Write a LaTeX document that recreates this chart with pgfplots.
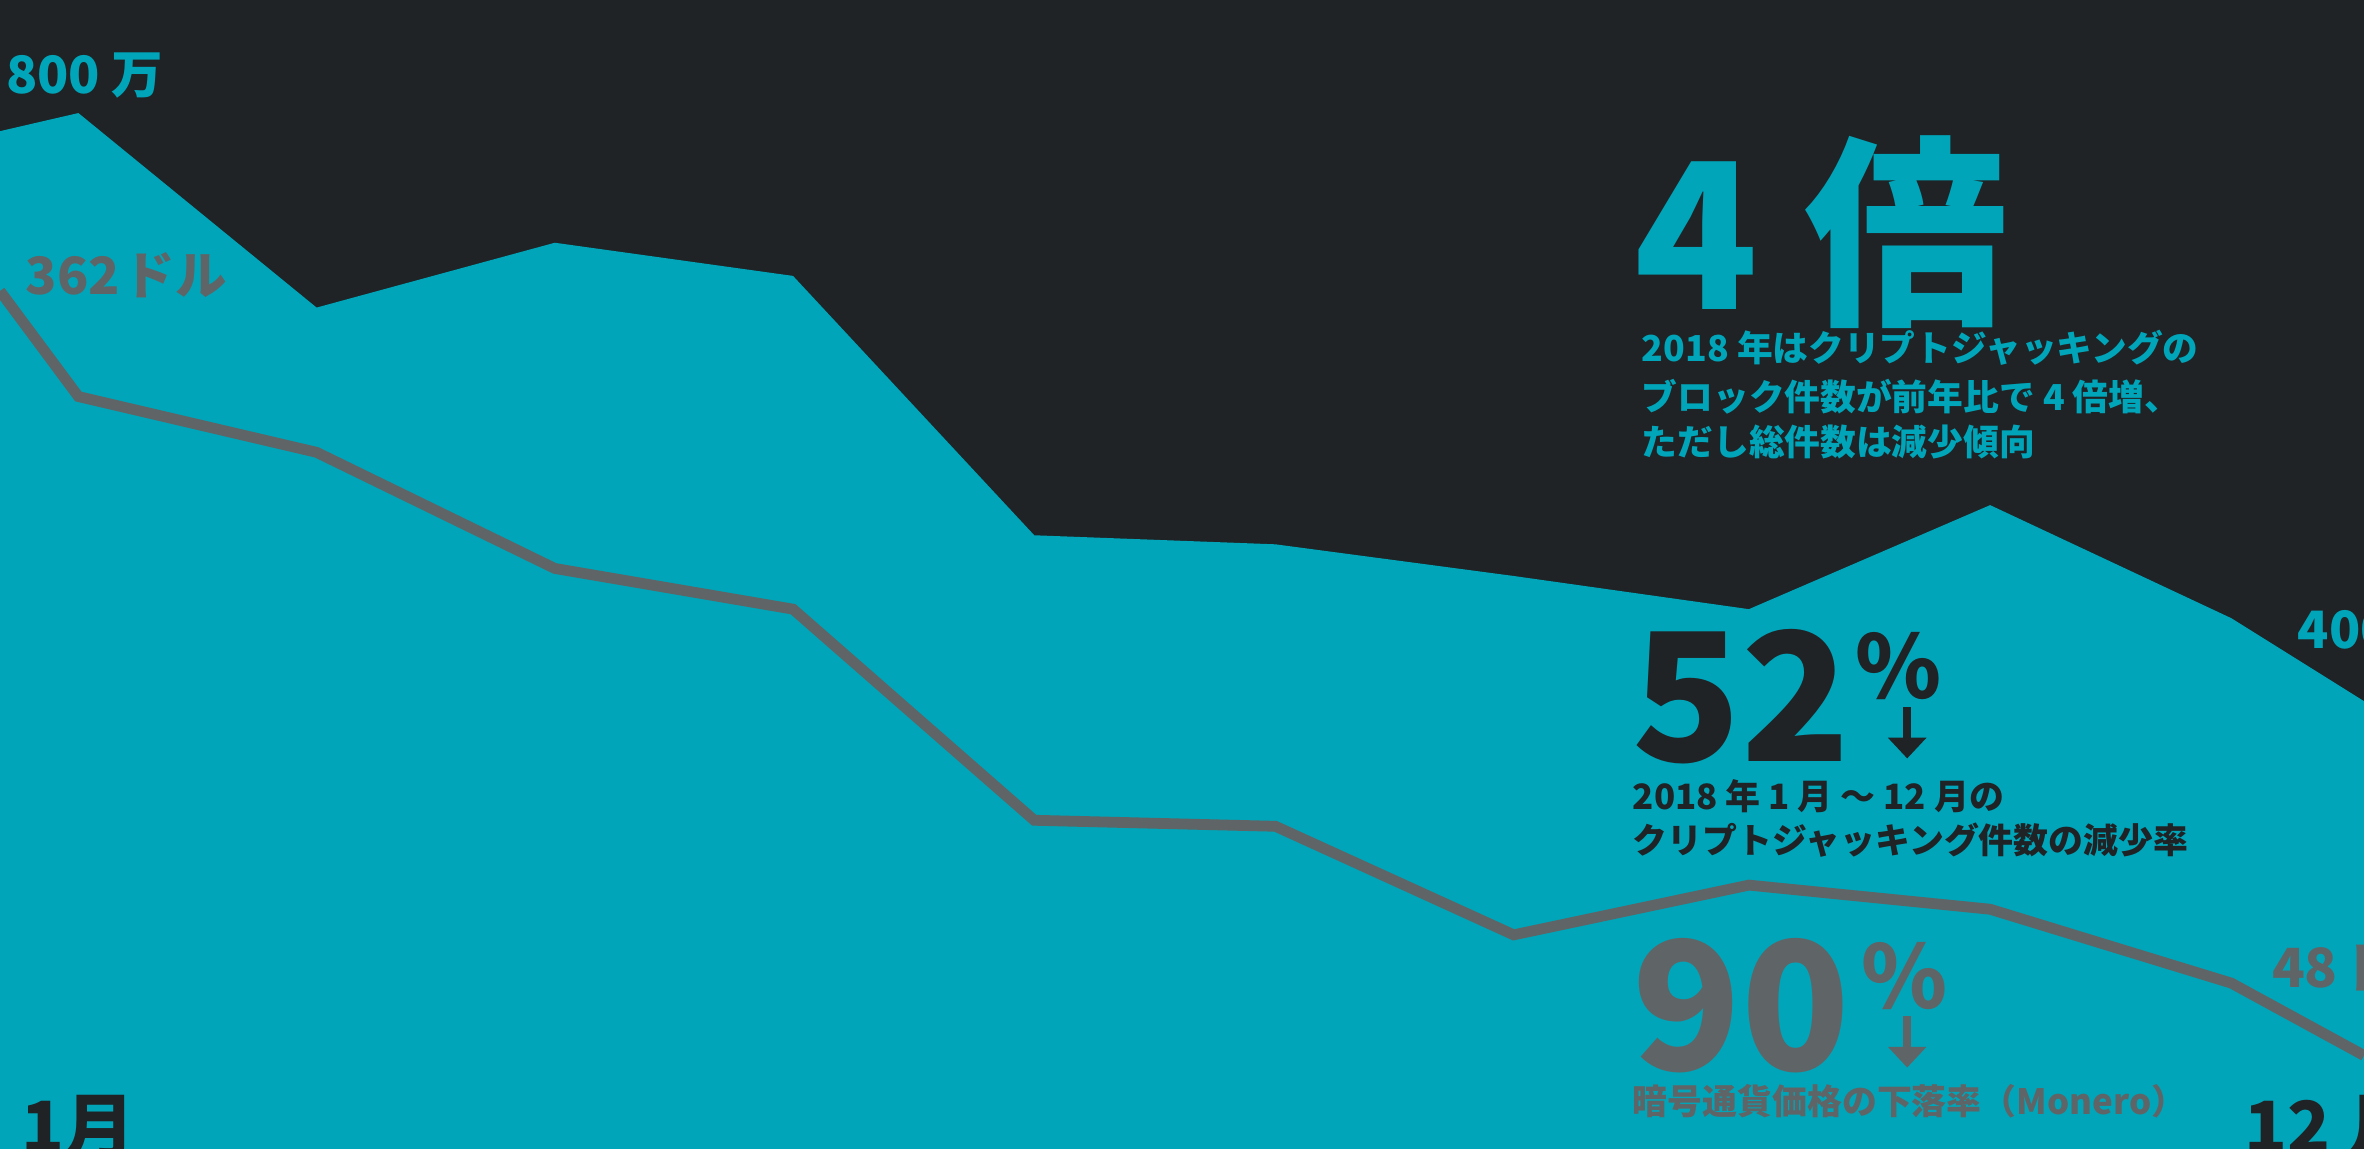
\documentclass[border=0pt]{standalone}
\usepackage{pgfplots}
\pgfplotsset{compat=1.18}
\usepackage{fontspec}
\usetikzlibrary{arrows.meta}
\newfontfamily\jp{Noto Sans CJK JP Black}
\definecolor{bg}{HTML}{1F2325}
\definecolor{tealc}{HTML}{00A5B9}
\definecolor{grayc}{HTML}{5F6566}

% monthly blocked cryptojacking count (area) and Monero price (line)
\pgfplotstableread{
x   count
0    675
52   687
210  558
368  601
526  579
686  407
846  401
1004 380
1160 358
1320 427
1480 352
1568 297
}\counts
\pgfplotstableread{
x   price
0    569
52   499
210  462
368  385
526  358
686  218
846  214
1004 142
1160 175
1320 159
1480 110
1568 62
}\prices

\begin{document}
\begin{tikzpicture}[every node/.append style={inner sep=0pt, outer sep=0pt}]
  \begin{axis}[
    width=20cm, height=9.7208cm, scale only axis,
    xmin=0, xmax=1568, ymin=0, ymax=762,
    axis lines=none, ticks=none,
    axis background/.style={fill=bg},
    clip mode=global,
    ]
    \addplot[fill=tealc, draw=none] table[x=x, y=count] {\counts} \closedcycle;
    \addplot[grayc, line width=2.6pt, line join=miter] table[x=x, y=price] {\prices};

    \node[anchor=base west, text=tealc, font=\jp\fontsize{12.4}{14}\selectfont] at (axis cs:4,700) {800 万};
    \node[anchor=base west, text=grayc, font=\jp\fontsize{12.4}{14}\selectfont] at (axis cs:17,567) {362\hspace{0.08em}ドル};

    \node[anchor=base west, text=tealc, font=\jp\fontsize{49}{50}\selectfont] at (axis cs:1084,557) {4 倍};
    \node[anchor=base west, text=tealc, font=\jp\fontsize{8.6}{10}\selectfont] at (axis cs:1089,522) {2018 年はクリプトジャッキングの};
    \node[anchor=base west, text=tealc, font=\jp\fontsize{8.6}{10}\selectfont] at (axis cs:1089,490) {ブロック件数が前年比で 4 倍増、};
    \node[anchor=base west, text=tealc, font=\jp\fontsize{8.6}{10}\selectfont] at (axis cs:1089,460) {ただし総件数は減少傾向};

    \node[anchor=base west, text=bg, font=\jp\fontsize{43}{44}\selectfont] at (axis cs:1083,257) {52};
    \node[anchor=base west, text=bg, font=\jp\fontsize{21}{22}\selectfont] at (axis cs:1231,299) {\%};
    \draw[bg, line width=2pt, -{Triangle[length=5pt, width=9pt]}] (axis cs:1265,293) -- (axis cs:1265,259);
    \node[anchor=base west, text=bg, font=\jp\fontsize{8.4}{10}\selectfont] at (axis cs:1083,225) {2018 年 1 月 ～ 12 月の};
    \node[anchor=base west, text=bg, font=\jp\fontsize{8.4}{10}\selectfont] at (axis cs:1083,196) {クリプトジャッキング件数の減少率};

    \node[anchor=base west, text=grayc, font=\jp\fontsize{43}{44}\selectfont] at (axis cs:1083,52) {90};
    \node[anchor=base west, text=grayc, font=\jp\fontsize{21}{22}\selectfont] at (axis cs:1235,93) {\%};
    \draw[grayc, line width=2pt, -{Triangle[length=5pt, width=9pt]}] (axis cs:1265,88) -- (axis cs:1265,54);
    \node[anchor=base west, text=grayc, font=\jp\fontsize{8.4}{10}\selectfont] at (axis cs:1083,23) {暗号通貨価格の下落率（Monero）};

    \node[anchor=base west, text=tealc, font=\jp\fontsize{12.4}{14}\selectfont] at (axis cs:1524,332) {400 万};
    \node[anchor=base west, text=grayc, font=\jp\fontsize{13}{14}\selectfont] at (axis cs:1507,107) {48\hspace{0.08em}ドル};

    \node[anchor=base west, text=bg, font=\jp\fontsize{17}{18}\selectfont] at (axis cs:14,-2) {1月};
    \node[anchor=base west, text=bg, font=\jp\fontsize{17}{18}\selectfont] at (axis cs:1489,-2) {12 月};
  \end{axis}
  \pgfresetboundingbox
  \useasboundingbox (current axis.south west) rectangle (current axis.north east);
\end{tikzpicture}
\end{document}
